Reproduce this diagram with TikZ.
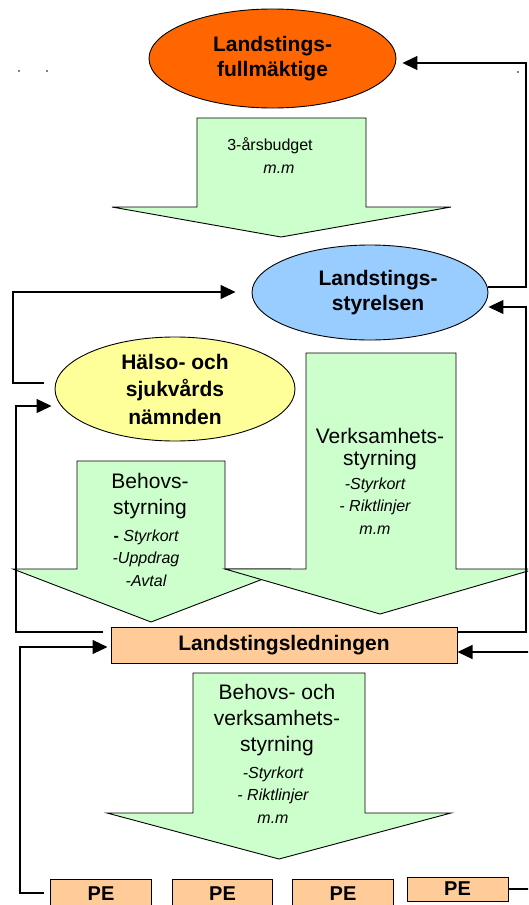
\documentclass[tikz,border=0pt]{standalone}
\usepackage{fontspec}
\setmainfont{Liberation Sans}
\usetikzlibrary{shapes.geometric,arrows.meta}

\definecolor{fmorange}{HTML}{FF6600}
\definecolor{lsblue}{HTML}{99CCFF}
\definecolor{hsnyellow}{HTML}{FFFF99}
\definecolor{flowgreen}{HTML}{CCFFCC}
\definecolor{boxpeach}{HTML}{FFCC99}

\begin{document}
\begin{tikzpicture}[x=1pt,y=-1pt,
    flow/.style={draw,line width=0.9pt,fill=flowgreen,line join=miter},
    conn/.style={draw,line width=1.1pt},
    arr/.style={conn,-{Triangle[length=15pt,width=14pt]}},
    maintext/.style={align=center,font=\fontsize{21}{26}\selectfont},
    subtext/.style={align=center,font=\fontsize{16}{22.5}\selectfont\itshape}]

        \useasboundingbox (0,0) rectangle (528,905);
        \clip (0,0) rectangle (528,905);

        % stray dots
        \fill (19,71) circle (0.8pt);
        \fill (47,71) circle (0.8pt);
        \fill (518,72) circle (0.8pt);

        % green arrows
        \draw[flow] (197,118) -- (366,118) -- (366,207) -- (451,207) -- (281,237) -- (112,207) -- (197,207) -- cycle;
        \draw[flow] (77,461) -- (225,461) -- (225,569) -- (289,569) -- (151,622) -- (13,569) -- (77,569) -- cycle;
        \draw[flow] (306,353) -- (456,353) -- (456,569) -- (535,569) -- (380,614) -- (225,569) -- (306,569) -- cycle;
        \draw[flow] (193,673) -- (365,673) -- (365,813) -- (451,813) -- (279,859) -- (107,813) -- (193,813) -- cycle;

        \node[subtext,font=\fontsize{16}{20}\selectfont] (budget) at (270,146) {3-årsbudget};
        \node[subtext] (budgetmm) at (279,169) {m.m};

        \node[maintext,font=\fontsize{21}{22}\selectfont] (verks) at (380,449) {Verksamhets-\\styrning};
        \node[subtext] (verkssub) at (375,506) {-Styrkort\\- Riktlinjer\\m.m};

        \node[maintext] (behov) at (150,496) {Behovs-\\styrning};
        \node[subtext] (behovsub) at (146,558) {{\upshape\bfseries -} Styrkort\\-Uppdrag\\-Avtal};

        \node[maintext] (bothtext) at (277,720) {Behovs- och\\verksamhets-\\styrning};
        \node[subtext] (bothsub) at (273,795) {-Styrkort\\- Riktlinjer\\m.m};

        \begin{scope}[every node/.style={ellipse,draw,line width=0.9pt,inner sep=0pt,align=center,
            font=\fontsize{21}{25}\selectfont\bfseries}]
          \node[fill=fmorange,minimum width=247pt,minimum height=99pt] (fullm) at (272.5,58.5) {Landstings-\\fullmäktige};
          \node[fill=lsblue,minimum width=236pt,minimum height=95pt] (styr) at (370,292.5)
            {\hspace*{16pt}Landstings-\\\hspace*{16pt}styrelsen};
          \node[fill=hsnyellow,minimum width=240pt,minimum height=104pt,
            font=\fontsize{21}{27.5}\selectfont\bfseries] (hsn) at (175,389) {Hälso- och\\sjukvårds\\nämnden};
        \end{scope}

        \begin{scope}[every node/.style={rectangle,draw,line width=1pt,fill=boxpeach,inner sep=0pt,
            font=\fontsize{20}{24}\selectfont\bfseries}]
          \node[minimum width=346pt,minimum height=36pt,font=\fontsize{21}{25}\selectfont\bfseries] (ledn) at (284,645) {Landstingsledningen};
          \node[minimum width=100.5pt,minimum height=30pt] (pe1) at (101,894) {PE};
          \node[minimum width=100.5pt,minimum height=30pt] (pe2) at (222.5,894) {PE};
          \node[minimum width=100.5pt,minimum height=30pt] (pe3) at (343,894) {PE};
          \node[minimum width=101pt,minimum height=24pt] (pe4) at (457.5,889) {PE};
        \end{scope}

        % bends of the connectors
        \coordinate (fmR) at (526,63);
        \coordinate (lsR) at (526,287);
        \coordinate (lsR2) at (526,307);
        \coordinate (lnR) at (526,632);
        \coordinate (peR) at (531,889);
        \coordinate (lnR2) at (531,652);
        \coordinate (hsnOut) at (44,383);
        \coordinate (lMid) at (13,383);
        \coordinate (lTop) at (13,292);
        \coordinate (lnOut) at (103,632);
        \coordinate (lBot) at (16,632);
        \coordinate (lHsn) at (16,406);
        \coordinate (peOut) at (44,893);
        \coordinate (lLow) at (20,893);
        \coordinate (lLn) at (20,647);

        \draw[arr,shorten >=6pt] (styr.east |- lsR) -- (lsR) -- (fmR) -- (fmR -| fullm.east);
        \draw[arr] (lnR -| ledn.east) -- (lnR) -- (lsR2) -- (lsR2 -| styr.east);
        \draw[arr] (pe4.east) -- (peR) -- (lnR2) -- (lnR2 -| ledn.east);
        \draw[arr,shorten >=16pt] (hsnOut) -- (lMid) -- (lTop) -- (lTop -| styr.west);
        \draw[arr,shorten >=3pt] (lnOut) -- (lBot) -- (lHsn) -- (lHsn -| hsn.west);
        \draw[arr,shorten >=3pt] (peOut) -- (lLow) -- (lLn) -- (lLn -| ledn.west);

      \end{tikzpicture}
\end{document}
